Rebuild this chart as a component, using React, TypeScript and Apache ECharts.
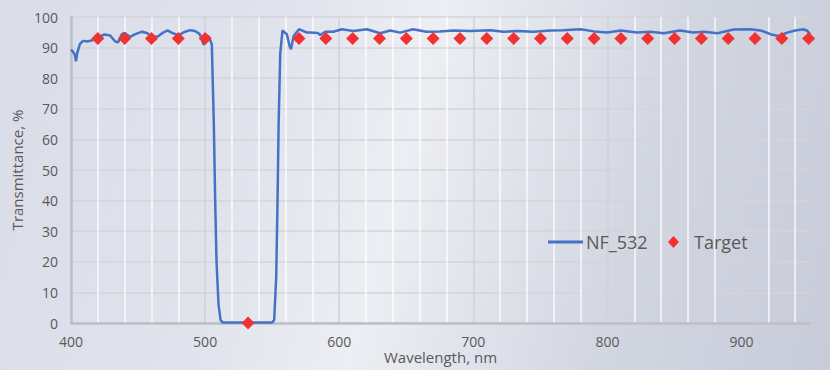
import React, { useEffect, useRef } from "react";
import * as echarts from "echarts";

const wavelengths = [
  400, 401.5, 403, 403.7, 404.5, 406.7, 409, 412, 416, 420, 425, 429, 433, 435, 438, 440, 444, 448, 453, 457,
  460, 465, 468, 472, 475, 480, 485, 489, 492.5, 496, 499, 501.5, 503, 505, 506.5, 507.5, 508.5, 510, 511.5, 513,
  530, 550, 551.5, 553, 554, 554.8, 556, 557.7, 561, 563, 564, 566, 570, 576, 578.4, 584, 585.8, 589.6, 595.5, 602,
  610.5, 620.7, 630.6, 638, 645.5, 655, 665, 675, 685, 697.8, 712.7, 722.4, 732.6, 744.8, 757.5, 767, 780, 790, 800, 810,
  822, 832, 842, 854, 864, 872, 882, 894, 907, 915, 922, 927.6, 934, 940, 946, 949, 951,
];
const transmittance = [
  89.3, 88.7, 87.5, 85.5, 88, 91.2, 92.2, 92, 92.4, 93.3, 94.3, 94, 92, 91.7, 94.4, 94.8, 93.5, 94.4, 95.2, 94.7,
  93.3, 93.7, 94.7, 95.6, 94.9, 94, 95.2, 95.7, 95.4, 94.4, 90.9, 94, 93.4, 91, 65, 40, 20, 6, 1, 0.2,
  0.2, 0.2, 1, 15, 40, 65, 88, 95.6, 94.3, 90.5, 89.5, 93.8, 96, 94.9, 94.9, 94.8, 94.1, 95.2, 95.2, 96,
  95.4, 96, 94.7, 95.6, 94.9, 96, 95.2, 95.3, 95.6, 95.4, 95.7, 95.2, 95.4, 95.2, 95.6, 95.7, 96, 95.3, 94.9, 95.6,
  94.9, 95.2, 94.7, 95.6, 94.9, 95.2, 94.7, 95.9, 96, 95.5, 94.3, 93.8, 94.9, 95.6, 96, 95.5, 94.4,
];
const targetWavelengths = [
  420, 440, 460, 480, 500, 532, 570, 590, 610, 630, 650, 670, 690, 710, 730, 750, 770, 790, 810, 830, 850, 870, 890,
  910, 930, 950,
];
const targetValues = [
  93, 93, 93, 93, 93, 0, 93, 93, 93, 93, 93, 93, 93, 93, 93, 93, 93, 93, 93, 93, 93, 93, 93, 93, 93, 93,
];

const TEXT = "#595959";
const FONT = "Open Sans";
const RED = "#f23232";
const BLUE = "#4472c4";

export default function App() {
  const ref = useRef<HTMLDivElement>(null);
  useEffect(() => {
    if (!ref.current) return;
    const chart = echarts.init(ref.current, null, { renderer: "svg" });
    const lineData = wavelengths.map((w, i) => [w, transmittance[i]]);
    const targetData = targetWavelengths.map((w, i) => [w, targetValues[i]]);
    chart.setOption({
      animation: false,
      backgroundColor: "transparent",
      textStyle: { fontFamily: FONT },
      grid: { left: 71, right: 20, top: 17, bottom: 47, containLabel: false, outerBoundsMode: "none" },
      legend: [
        {
          left: 548,
          top: 233,
          padding: 0,
          itemWidth: 35,
          itemHeight: 3,
          data: [{ name: "NF_532", icon: "rect", itemStyle: { color: BLUE } }],
          textStyle: { fontSize: 18, color: TEXT, fontFamily: FONT, padding: [0, 0, 0, -2] },
        },
        {
          left: 668,
          top: 233,
          padding: 0,
          itemWidth: 11,
          itemHeight: 12,
          data: [{ name: "Target", icon: "diamond", itemStyle: { color: RED, opacity: 1 } }],
          textStyle: { fontSize: 18, color: TEXT, fontFamily: FONT, padding: [0, 0, 0, 10] },
        },
      ],
      xAxis: {
        type: "value",
        min: 400,
        max: 951,
        interval: 20,
        name: "Wavelength, nm",
        nameLocation: "middle",
        nameGap: 26,
        nameMoveOverlap: false,
        nameTextStyle: { fontSize: 15, color: TEXT, fontFamily: FONT },
        axisLine: { show: true, lineStyle: { color: "#bcbfc5", width: 2.5 } },
        axisTick: { show: false },
        axisLabel: {
          interval: 0,
          margin: 11,
          fontSize: 14,
          color: TEXT,
          fontFamily: FONT,
          showMaxLabel: false,
          formatter: (v: number) => (Math.round(v) % 100 === 0 ? String(Math.round(v)) : ""),
        },
        splitLine: {
          show: true,
          showMaxLine: false,
          lineStyle: {
            color: ["#cfd2d8", "rgba(255,255,255,0.85)", "rgba(255,255,255,0.85)", "rgba(255,255,255,0.85)", "rgba(255,255,255,0.85)"],
            width: 1.5,
          },
        },
      },
      yAxis: {
        type: "value",
        min: 0,
        max: 100,
        interval: 10,
        name: "Transmittance, %",
        nameLocation: "middle",
        nameGap: 47,
        nameMoveOverlap: false,
        nameTextStyle: { fontSize: 15, color: TEXT, fontFamily: FONT },
        axisLine: { show: true, lineStyle: { color: "#bcbfc5", width: 2.5 } },
        axisTick: { show: false },
        axisLabel: { margin: 13, fontSize: 14, color: TEXT, fontFamily: FONT },
        splitLine: { show: true, lineStyle: { color: "#d3d5da", width: 1.5 } },
      },
      series: [
        {
          name: "NF_532",
          type: "line",
          data: lineData,
          symbol: "none",
          showSymbol: false,
          smooth: false,
          lineStyle: { color: BLUE, width: 2.5 },
          itemStyle: { color: BLUE },
        },
        {
          name: "Target",
          type: "scatter",
          data: targetData,
          symbol: "diamond",
          symbolSize: 13,
          clip: false,
          itemStyle: { color: RED, opacity: 1 },
          z: 3,
        },
      ],
    });
    return () => chart.dispose();
  }, []);
  return (
    <div
      style={{
        position: "fixed",
        left: 0,
        top: 0,
        width: 830,
        height: 370,
        background:
          "linear-gradient(105deg, #dadde8 0%, #e0e3ec 30%, #eceef3 48%, #e3e5ed 58%, #d2d6e1 75%, #c8ccd9 100%)",
      }}
    >
      <div ref={ref} style={{ width: 830, height: 370 }} />
    </div>
  );
}
